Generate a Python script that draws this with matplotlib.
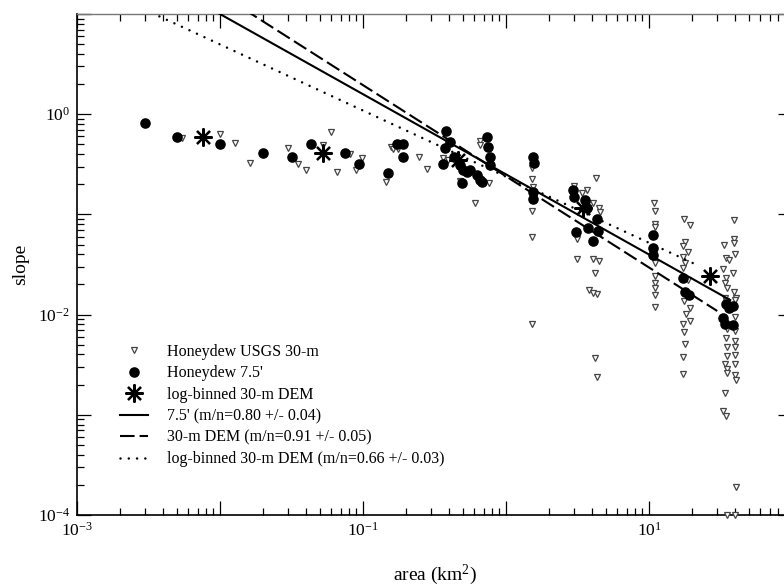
import matplotlib
matplotlib.use("Agg")
import matplotlib.pyplot as plt
import numpy as np
from matplotlib.ticker import LogLocator, FuncFormatter, NullFormatter

plt.rcParams['font.family'] = ['Liberation Serif', 'DejaVu Serif']
plt.rcParams['mathtext.fontset'] = 'custom'
plt.rcParams['mathtext.rm'] = 'Liberation Serif'
plt.rcParams['mathtext.it'] = 'Liberation Serif:italic'

# Honeydew USGS 30-m DEM (open triangles)
dem_area = [0.0054, 0.010, 0.0127, 0.0162, 0.030, 0.035, 0.040, 0.0525, 0.060, 0.066,
            0.081, 0.089, 0.098, 0.145, 0.157, 0.162, 0.176,
            0.247, 0.281, 0.362, 0.393, 0.476, 0.658, 0.658, 0.760, 0.607,
            1.52, 1.52, 1.55, 1.52, 1.52, 1.52,
            2.99, 3.40, 3.68, 4.06, 4.47, 4.54, 4.26, 3.14, 3.14, 4.06, 4.47, 4.19,
            3.80, 4.33, 4.06, 4.19, 4.33,
            10.8, 11.0, 11.0, 11.0, 10.8, 11.0, 11.0, 11.0, 11.0, 11.0, 11.0,
            17.6, 19.4, 17.9, 17.3, 18.7, 17.3, 17.9, 17.3, 18.7, 17.6, 19.4, 18.2,
            19.4, 17.3, 17.6, 17.9, 17.3, 17.3,
            39.3, 39.3, 39.3, 33.5, 39.9, 34.5, 36.3, 32.9, 38.7, 34.5, 34.0, 35.1,
            39.3, 40.6, 34.0, 34.5, 39.9, 39.9, 35.1, 39.9, 34.5, 39.9, 35.1, 39.9,
            35.1, 39.9, 34.0, 39.9, 35.1, 35.1, 39.9, 40.6, 34.0, 32.9, 34.5, 40.6,
            35.1, 39.9]
dem_slope = [0.575, 0.631, 0.513, 0.324, 0.457, 0.316, 0.275, 0.490, 0.661, 0.263,
             0.398, 0.275, 0.363, 0.209, 0.468, 0.447, 0.447,
             0.372, 0.282, 0.363, 0.347, 0.214, 0.537, 0.490, 0.204, 0.129,
             0.288, 0.224, 0.186, 0.107, 0.059, 0.0081,
             0.191, 0.162, 0.174, 0.129, 0.117, 0.105, 0.229, 0.0562, 0.0355, 0.0355,
             0.0339, 0.0263, 0.0174, 0.0162, 0.0166, 0.00372, 0.00240,
             0.129, 0.107, 0.0794, 0.0741, 0.0363, 0.0324, 0.0245, 0.0209, 0.0186,
             0.0158, 0.0120,
             0.0891, 0.0776, 0.0525, 0.0479, 0.0417, 0.0372, 0.0331, 0.0295, 0.0219,
             0.0138, 0.0117, 0.0102, 0.00871, 0.00813, 0.00676, 0.00513, 0.00380,
             0.00257,
             0.0871, 0.0562, 0.0513, 0.0490, 0.0407, 0.0363, 0.0347, 0.0288, 0.0263,
             0.0234, 0.0209, 0.0186, 0.0170, 0.0145, 0.0148, 0.0138, 0.0141, 0.00955,
             0.00724, 0.00692, 0.00589, 0.00550, 0.00479, 0.00479, 0.00389, 0.00398,
             0.00324, 0.00324, 0.00288, 0.00263, 0.00251, 0.00224, 0.00166, 0.00110,
             0.000977, 0.000191, 0.0001, 0.0001]

# Honeydew 7.5' quadrangle (filled circles)
quad_area = [0.0030, 0.0050, 0.010, 0.020, 0.032, 0.043, 0.075, 0.094, 0.150, 0.173,
             0.190, 0.190, 0.380, 0.374, 0.362, 0.406, 0.433, 0.477, 0.50, 0.533,
             0.492, 0.560, 0.627, 0.658, 0.679, 0.736, 0.748, 0.773, 0.773,
             1.55, 1.57, 1.55, 1.55, 2.94, 2.99, 3.57, 3.68, 4.33, 3.74, 3.09, 4.06,
             4.40, 10.7, 10.7, 10.7, 17.3, 17.9, 19.1, 34.5, 38.6, 36.2, 32.9, 34.0,
             38.6]
quad_slope = [0.81, 0.59, 0.51, 0.41, 0.37, 0.51, 0.41, 0.316, 0.257, 0.51,
              0.51, 0.37, 0.68, 0.46, 0.316, 0.525, 0.37, 0.309, 0.275, 0.263,
              0.204, 0.275, 0.245, 0.219, 0.209, 0.59, 0.468, 0.37, 0.309,
              0.37, 0.324, 0.166, 0.141, 0.174, 0.148, 0.138, 0.115, 0.091, 0.074,
              0.066, 0.054, 0.069, 0.063, 0.0457, 0.0389, 0.0234, 0.0170, 0.0158,
              0.0129, 0.0123, 0.0117, 0.0093, 0.0081, 0.0079]

# log-binned 30-m DEM
bin_area = [0.0076, 0.0525, 0.461, 3.45, 26.7]
bin_slope = [0.59, 0.41, 0.347, 0.117, 0.0245]

# power-law fits  slope = k * area^-theta
fit_labels = ["7.5' (m/n=0.80 +/- 0.04)",
              "30-m DEM (m/n=0.91 +/- 0.05)",
              "log-binned 30-m DEM (m/n=0.66 +/- 0.03)"]
fit_k = [0.251, 0.240, 0.238]
fit_theta = [0.80, 0.91, 0.66]
fit_xmax = [37.0, 30.0, 21.0]
fit_styles = ['-', (0, (7, 2.4)), (0, (0.01, 3.3))]
fit_lw = [1.5, 1.5, 1.8]

fig = plt.figure(figsize=(7.84, 5.86), dpi=100)
ax = fig.add_axes([77/784, 71/586, 715/784, 501/586])

ax.plot(dem_area, dem_slope, ls='none', marker='v', ms=4.8, mfc='white',
        mec='#444444', mew=0.9, clip_on=False, label='Honeydew USGS 30-m', zorder=3)
ax.plot(quad_area, quad_slope, ls='none', marker='o', ms=6.6, color='black',
        label="Honeydew 7.5'", zorder=4)
ax.plot(bin_area, bin_slope, ls='none', marker=(8, 2, 0), ms=13, mew=1.6,
        color='black', label='log-binned 30-m DEM', zorder=5)

for i in range(3):
    xx = np.array([1e-3, fit_xmax[i]])
    ax.plot(xx, fit_k[i] * xx ** (-fit_theta[i]), color='black', lw=fit_lw[i],
            ls=fit_styles[i], label=fit_labels[i],
            dash_capstyle='round' if i == 2 else 'butt', zorder=6)

ax.set_xscale('log')
ax.set_yscale('log')
ax.set_xlim(1e-3, 1e2)
ax.set_ylim(1e-4, 1e1)

ax.xaxis.set_major_locator(LogLocator(base=10, numticks=20))
ax.yaxis.set_major_locator(LogLocator(base=10, numticks=20))
ax.xaxis.set_minor_locator(LogLocator(base=10, subs=np.arange(2, 10), numticks=20))
ax.yaxis.set_minor_locator(LogLocator(base=10, subs=np.arange(2, 10), numticks=20))
ax.xaxis.set_minor_formatter(NullFormatter())
ax.yaxis.set_minor_formatter(NullFormatter())


def fmt_x(v, pos):
    e = int(round(np.log10(v)))
    return r'$10^{%d}$' % e if e % 2 != 0 else ''


def fmt_y(v, pos):
    e = int(round(np.log10(v)))
    return r'$10^{%d}$' % e if e % 2 == 0 else ''


ax.xaxis.set_major_formatter(FuncFormatter(fmt_x))
ax.yaxis.set_major_formatter(FuncFormatter(fmt_y))

ax.tick_params(which='both', direction='in', top=True, right=True, labelsize=12.5,
               colors='black')
ax.tick_params(which='major', length=10, width=0.9, pad=5)
ax.tick_params(which='minor', length=5, width=0.9)

for side in ['left', 'bottom']:
    ax.spines[side].set_linewidth(1.2)
ax.spines['top'].set_color('#777777')
ax.spines['top'].set_linewidth(1.0)

ax.set_xlabel(r'area (km$^2$)', fontsize=14)
ax.set_ylabel('slope', fontsize=14)
ax.xaxis.set_label_coords(0.5, -0.095)
ax.yaxis.set_label_coords(-0.067, 0.5)

leg = ax.legend(loc='upper left', bbox_to_anchor=(120/784, 1 - 344/586),
                bbox_transform=fig.transFigure, frameon=False, fontsize=11.5,
                borderpad=0, borderaxespad=0, handlelength=1.75,
                handletextpad=1.2, labelspacing=0.34, numpoints=1)

fig.savefig('out.png', dpi=100)
